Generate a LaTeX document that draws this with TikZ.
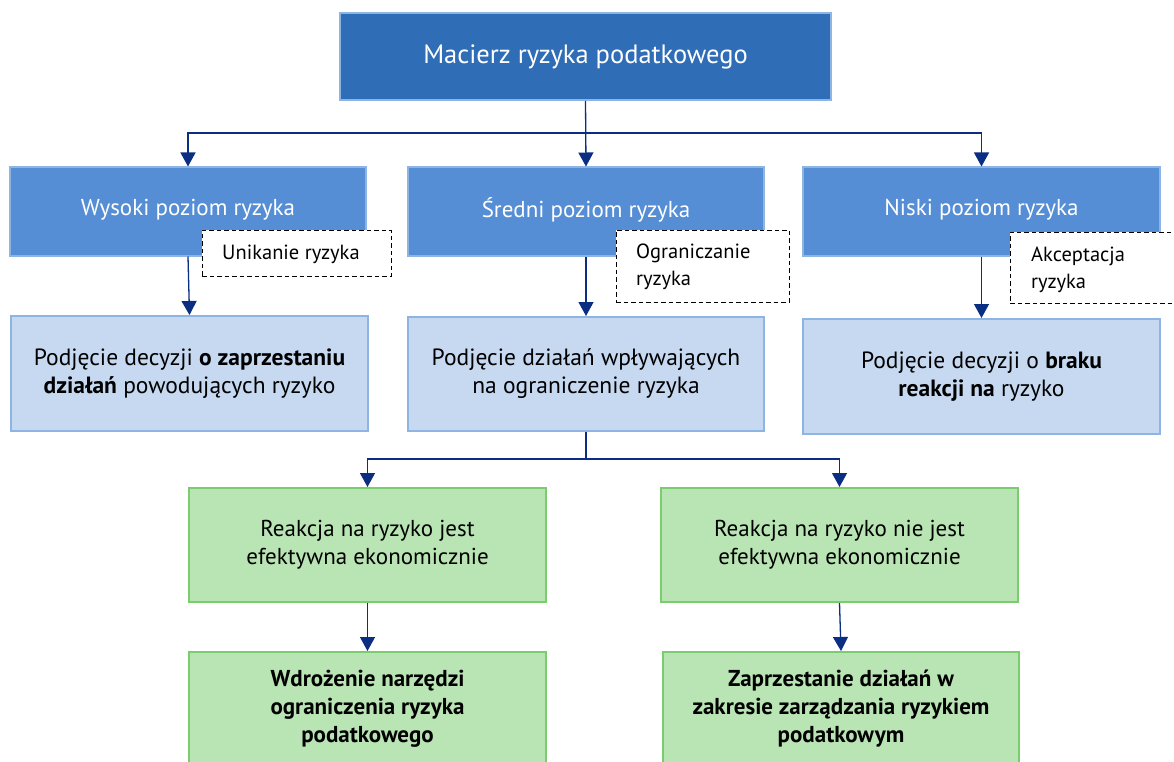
\documentclass[tikz,border=0pt]{standalone}
\usepackage{fontspec}
\setmainfont{PT Sans}
\usetikzlibrary{arrows.meta}
\definecolor{topfill}{HTML}{2F6DB6}
\definecolor{midfill}{HTML}{558ED5}
\definecolor{lightfill}{HTML}{C6D9F1}
\definecolor{blueedge}{HTML}{8EB4E3}
\definecolor{greenfill}{HTML}{B9E4B3}
\definecolor{greenedge}{HTML}{7ACC6F}
\definecolor{navy}{HTML}{0A2F82}
\tikzset{
  box/.style={rectangle, inner sep=0pt, line width=2pt, align=center},
  topbox/.style={box, fill=topfill, draw=blueedge, text=white, font=\fontsize{26.5}{30}\selectfont},
  midbox/.style={box, fill=midfill, draw=blueedge},
  midtext/.style={inner sep=0pt, text=white, font=\fontsize{23}{27}\selectfont},
  lightbox/.style={box, fill=lightfill, draw=blueedge, text=black, font=\fontsize{23.5}{28}\selectfont},
  greenbox/.style={box, fill=greenfill, draw=greenedge, text=black, font=\fontsize{23}{28}\selectfont},
  note/.style={rectangle, fill=white, draw=black, dash pattern=on 4.5pt off 3pt, line width=1pt, inner sep=0pt},
  notetext/.style={font=\fontsize{20.5}{27}\selectfont, anchor=west, inner sep=0pt, align=left},
  arr/.style={draw=navy, line width=1.3pt, -{Triangle[width=15pt,length=14pt]}},
  conn/.style={draw=navy, line width=1.3pt}
}
\begin{document}
\begin{tikzpicture}[x=1pt,y=-1pt]
\useasboundingbox (0,0) rectangle (1174,762);
\clip (0,0) rectangle (1174,762);
\fill[white] (0,0) rectangle (1174,762);
% boxes
\node[topbox, minimum width=491pt, minimum height=87pt] (top) at (585.5,56.5) {Macierz ryzyka podatkowego};
\node[midbox, minimum width=356pt, minimum height=88pt] (w2) at (188,211.5) {};
\node[midbox, minimum width=356pt, minimum height=88pt] (s2) at (586,211.5) {};
\node[midbox, minimum width=357pt, minimum height=88pt] (n2) at (981.5,211.5) {};
\node[midtext] (w2t) at (188,210) {Wysoki poziom ryzyka};
\node[midtext] (s2t) at (586,210) {Średni poziom ryzyka};
\node[midtext] (n2t) at (981.5,210) {Niski poziom ryzyka};
% notes
\node[note, minimum width=189pt, minimum height=46pt] (un) at (296.5,253) {};
\node[note, minimum width=173pt, minimum height=72pt] (og) at (702.5,266) {};
\node[note, minimum width=180pt, minimum height=71pt] (ak) at (1100,267.5) {};
\node[notetext] (unt) at (222,254) {Unikanie ryzyka};
\node[notetext] (ogt) at (636,267) {Ograniczanie\\ryzyka};
\node[notetext] (akt) at (1031,270) {Akceptacja\\ryzyka};
% level 3
\node[lightbox, minimum width=357pt, minimum height=115pt] (w3) at (189.5,373.5) {Podjęcie decyzji \textbf{o zaprzestaniu}\\\textbf{działań} powodujących ryzyko};
\node[lightbox, minimum width=356pt, minimum height=114pt] (s3) at (586,374) {Podjęcie działań wpływających\\na ograniczenie ryzyka};
\node[lightbox, minimum width=357pt, minimum height=115pt] (n3) at (981.5,376.5) {Podjęcie decyzji o \textbf{braku}\\\textbf{reakcji na} ryzyko};
% green
\node[greenbox, minimum width=357pt, minimum height=114pt] (g1) at (367.5,545) {Reakcja na ryzyko jest\\efektywna ekonomicznie};
\node[greenbox, minimum width=357pt, minimum height=114pt] (g2) at (839.5,545) {Reakcja na ryzyko nie jest\\efektywna ekonomicznie};
\node[greenbox, minimum width=357pt, minimum height=140pt] (g3) at (367.5,722) {};
\node[greenbox, minimum width=356pt, minimum height=140pt] (g4) at (841,722) {};
\node[font=\fontsize{23}{28}\selectfont\bfseries, align=center, inner sep=0pt] (g3t) at (367.5,709) {Wdrożenie narzędzi\\ograniczenia ryzyka\\podatkowego};
\node[font=\fontsize{23}{28}\selectfont\bfseries, align=center, inner sep=0pt] (g4t) at (841,709) {Zaprzestanie działań w\\zakresie zarządzania ryzykiem\\podatkowym};
% connectors
\coordinate (j1) at (585.5,133);
\coordinate (j2) at (586,459);
\draw[arr] (top.south) -- (s2.north);
\draw[arr] (j1) -| (w2.north);
\draw[arr] (j1) -| (n2.north);
\draw[arr] (w2.south) -- (w3.north);
\draw[arr] (s2.south) -- (s3.north);
\draw[arr] (n2.south) -- (n3.north);
\draw[conn] (s3.south) -- (j2);
\draw[arr] (j2) -| (g1.north);
\draw[arr] (j2) -| (g2.north);
\draw[arr] (g1.south) -- (g3.north);
\draw[arr] (g2.south) -- (g4.north);
\end{tikzpicture}
\end{document}
